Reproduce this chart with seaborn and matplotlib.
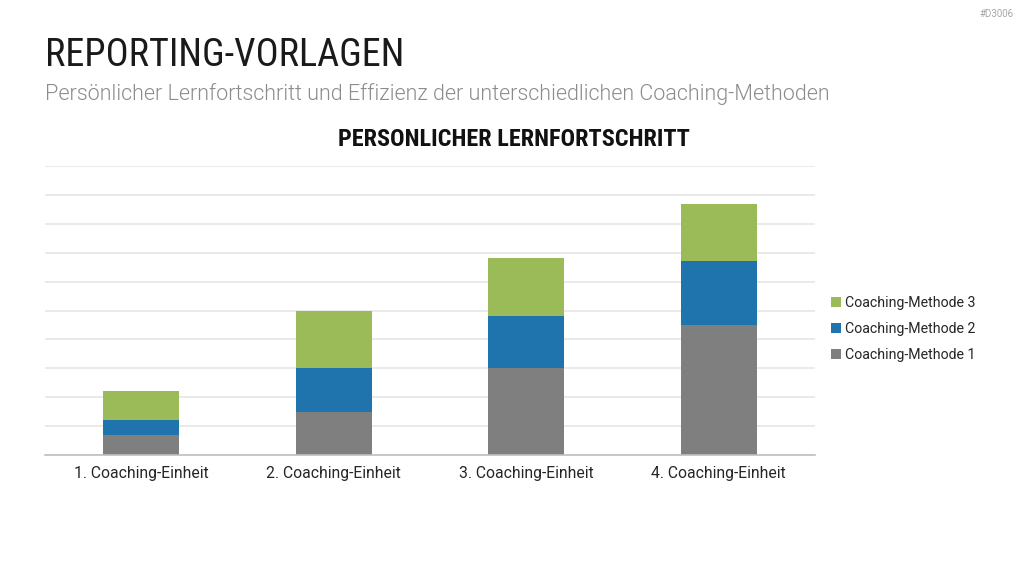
import numpy as np
import pandas as pd
import matplotlib
matplotlib.use("Agg")
import matplotlib.pyplot as plt
from matplotlib.patches import Patch
import seaborn as sns

categories = ["1. Coaching-Einheit", "2. Coaching-Einheit", "3. Coaching-Einheit", "4. Coaching-Einheit"]
methode1 = [0.7, 1.5, 3.0, 4.5]
methode2 = [0.5, 1.5, 1.8, 2.2]
methode3 = [1.0, 2.0, 2.0, 2.0]
series_names = ["Coaching-Methode 1", "Coaching-Methode 2", "Coaching-Methode 3"]
colors = ["#7f7f7f", "#1f74ad", "#9bbb59"]

sns.set_theme(style="white")
plt.rcParams['font.family'] = ['Roboto', 'DejaVu Sans']

df = pd.DataFrame({"cat": categories, "m1": methode1, "m2": methode2, "m3": methode3})
df["c1"] = df["m1"]
df["c2"] = df["m1"] + df["m2"]
df["c3"] = df["c2"] + df["m3"]

fig = plt.figure(figsize=(10.24, 5.76), dpi=100)
ax = fig.add_axes([45/1024, 1-455/576, 770/1024, 289/576])

for col, c in [("c3", colors[2]), ("c2", colors[1]), ("c1", colors[0])]:
    sns.barplot(data=df, x="cat", y=col, color=c, width=0.395, ax=ax,
                saturation=1, edgecolor="none", linewidth=0, zorder=3)

ax.set_ylim(0, 10)
ax.set_yticks(np.arange(0, 11, 1))
ax.set_yticklabels([])
ax.tick_params(axis="y", length=0)
ax.tick_params(axis="x", length=0, labelsize=11.3, colors="#262626", pad=8)
ax.grid(axis="y", color="#e6e6e6", linewidth=1.2, zorder=0)
ax.set_xlabel("")
ax.set_ylabel("")
for s in ["top", "right", "left"]:
    ax.spines[s].set_visible(False)
ax.spines["bottom"].set_color("#bfbfbf")
ax.spines["bottom"].set_linewidth(1.2)
ax.spines["bottom"].set_zorder(4)

handles = [Patch(facecolor=colors[i], edgecolor="none", label=series_names[i]) for i in [2, 1, 0]]
leg = fig.legend(handles=handles, loc="center left", bbox_to_anchor=(818/1024, 1-329/576),
                 frameon=False, fontsize=10.2, handlelength=0.7, handleheight=0.7,
                 handletextpad=0.3, labelspacing=0.85)
for t in leg.get_texts():
    t.set_color("#262626")

fig.text(45/1024, 1-56/576, "REPORTING-VORLAGEN", fontsize=27.5, color="#1a1a1a",
         va="center", ha="left", family="Roboto Condensed", fontweight=400)
fig.text(45/1024, 1-94/576, "Persönlicher Lernfortschritt und Effizienz der unterschiedlichen Coaching-Methoden",
         fontsize=15.5, color="#8c8c8c", va="center", ha="left", fontweight=300)
fig.text(514/1024, 1-139/576, "PERSONLICHER LERNFORTSCHRITT", fontsize=17.5, color="#111111",
         va="center", ha="center", fontweight="bold", family="Roboto Condensed")
fig.text(1014/1024, 1-14/576, "#D3006", fontsize=7, color="#a6a6a6", va="center", ha="right")

fig.savefig("out.png", dpi=100)
